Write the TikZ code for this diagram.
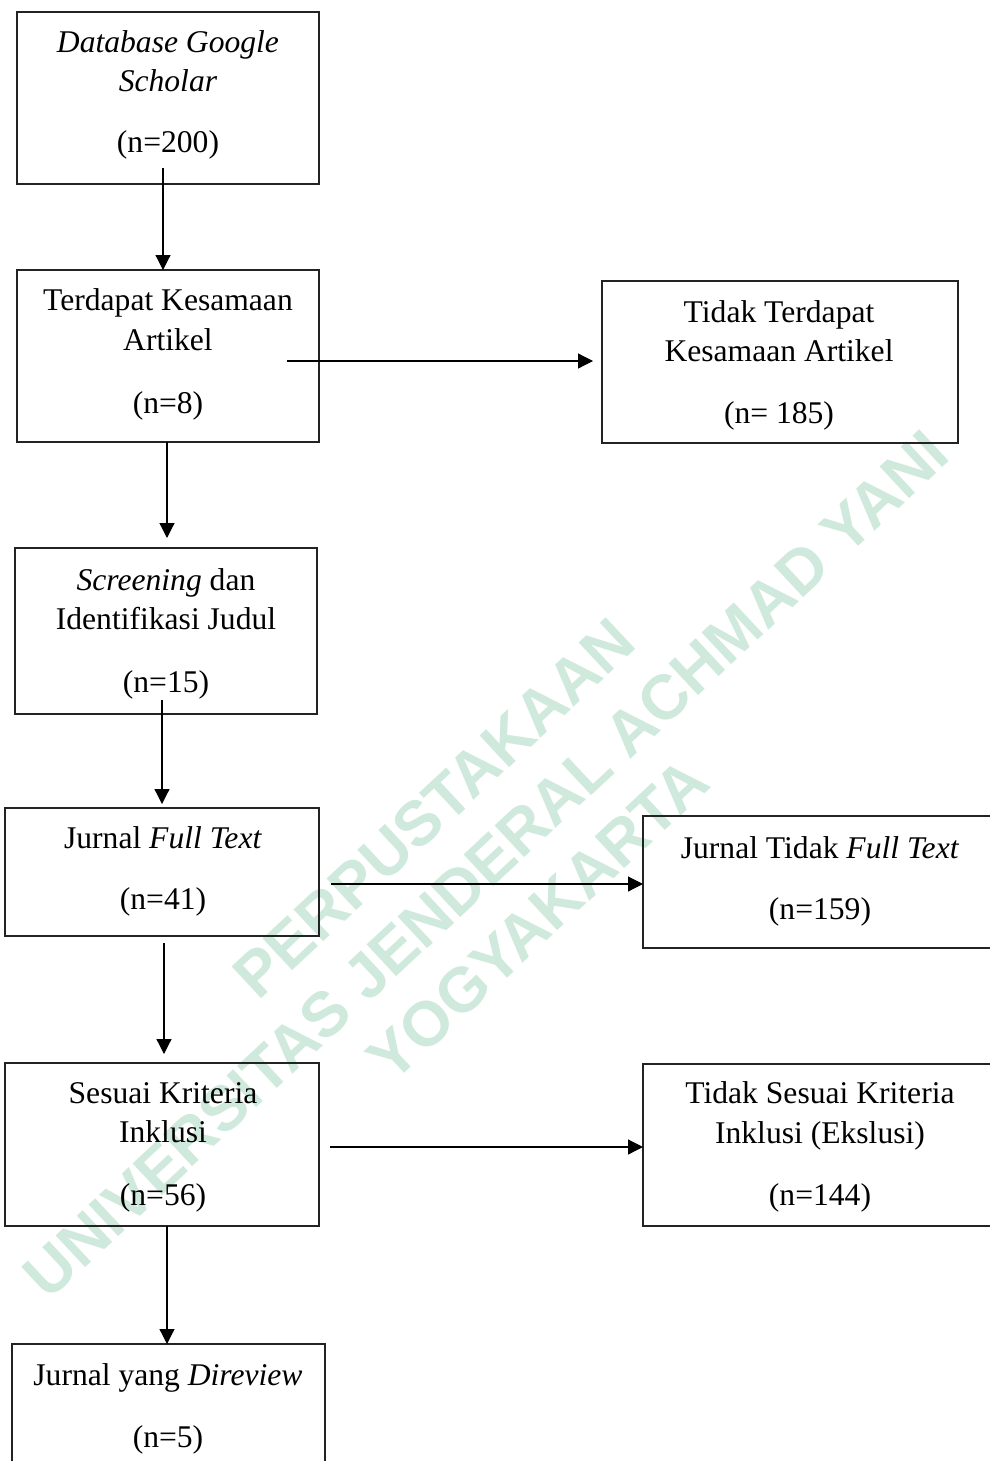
\documentclass[tikz,border=0pt]{standalone}
\usepackage{fontspec}
\setmainfont{Liberation Serif}
\newfontfamily\wmfont{Liberation Sans}
\usetikzlibrary{arrows.meta,calc}
\definecolor{wmgreen}{RGB}{207,234,220}
\definecolor{boxline}{RGB}{35,35,35}
\begin{document}
\begin{tikzpicture}[x=1pt,y=-1pt,
  box/.style={draw=boxline, line width=1.4pt, inner sep=0pt, outer sep=0pt},
  txt/.style={anchor=base, inner sep=0pt, font=\fontsize{31.6}{38}\selectfont},
  arr/.style={line width=1.2pt, -{Triangle[length=15pt,width=15pt]}},
  wmtext/.style={text=wmgreen, align=center, inner sep=0pt,
    font=\wmfont\bfseries\fontsize{63}{76}\selectfont}
]
\useasboundingbox (0,0) rectangle (990,1461);
\clip (0,0) rectangle (990,1461);
\fill[white] (0,0) rectangle (990,1461);

% watermark
\node[wmtext, rotate=43] (wm) at (486,864) {PERPUSTAKAAN\\UNIVERSITAS JENDERAL ACHMAD YANI\\YOGYAKARTA};

% boxes
\node[box, minimum width=302pt, minimum height=172pt] (b1) at (168,98) {};
\node[box, minimum width=302pt, minimum height=172pt] (b2) at (168,356) {};
\node[box, minimum width=356pt, minimum height=162pt] (b3) at (780,362) {};
\node[box, minimum width=302pt, minimum height=166pt] (b4) at (166,631) {};
\node[box, minimum width=314pt, minimum height=128pt] (b5) at (162,872) {};
\node[box, minimum width=357pt, minimum height=132pt] (b6) at (821.5,882) {};
\node[box, minimum width=314pt, minimum height=163pt] (b7) at (162,1144.5) {};
\node[box, minimum width=357pt, minimum height=162pt] (b8) at (821.5,1145) {};
\node[box, minimum width=313pt, minimum height=136pt] (b9) at (168.5,1412) {};

% texts
\node[txt] (t1a) at (168,53) {\textit{Database Google}};
\node[txt] (t1b) at (168,92) {\textit{Scholar}};
\node[txt] (t1c) at (168,153) {(n=200)};

\node[txt] (t2a) at (168,310) {Terdapat Kesamaan};
\node[txt] (t2b) at (168,350) {Artikel};
\node[txt] (t2c) at (168,413) {(n=8)};

\node[txt] (t3a) at (779,322) {Tidak Terdapat};
\node[txt] (t3b) at (779,361) {Kesamaan Artikel};
\node[txt] (t3c) at (779,423) {(n= 185)};

\node[txt] (t4a) at (166,590) {\textit{Screening} dan};
\node[txt] (t4b) at (166,629) {Identifikasi Judul};
\node[txt] (t4c) at (166,692) {(n=15)};

\node[txt] (t5a) at (163,848) {Jurnal \textit{Full Text}};
\node[txt] (t5b) at (163,909) {(n=41)};

\node[txt] (t6a) at (820,858) {Jurnal Tidak \textit{Full Text}};
\node[txt] (t6b) at (820,919) {(n=159)};

\node[txt] (t7a) at (163,1103) {Sesuai Kriteria};
\node[txt] (t7b) at (163,1142) {Inklusi};
\node[txt] (t7c) at (163,1205) {(n=56)};

\node[txt] (t8a) at (820,1103) {Tidak Sesuai Kriteria};
\node[txt] (t8b) at (820,1143) {Inklusi (Ekslusi)};
\node[txt] (t8c) at (820,1205) {(n=144)};

\node[txt] (t9a) at (168,1385) {Jurnal yang \textit{Direview}};
\node[txt] (t9b) at (168,1447) {(n=5)};

% connectors
\coordinate (s1) at (163,168);
\draw[arr] (s1) -- (s1 |- b2.north);

\coordinate (e2) at (167,538);
\draw[arr] (b2.south -| e2) -- (e2);

\coordinate (s3) at (162,700);
\coordinate (e3) at (162,804);
\draw[arr] (s3) -- (e3);

\coordinate (s4) at (164,943);
\coordinate (e4) at (164,1054);
\draw[arr] (s4) -- (e4);

\coordinate (x5) at (167,0);
\draw[arr] (x5 |- b7.south) -- (x5 |- b9.north);

\coordinate (h1) at (287,361);
\coordinate (g1) at (593,361);
\draw[arr] (h1) -- (g1);

\coordinate (h2) at (331,884);
\draw[arr] (h2) -- (h2 -| b6.west);

\coordinate (h3) at (330,1147);
\draw[arr] (h3) -- (h3 -| b8.west);
\end{tikzpicture}
\end{document}
